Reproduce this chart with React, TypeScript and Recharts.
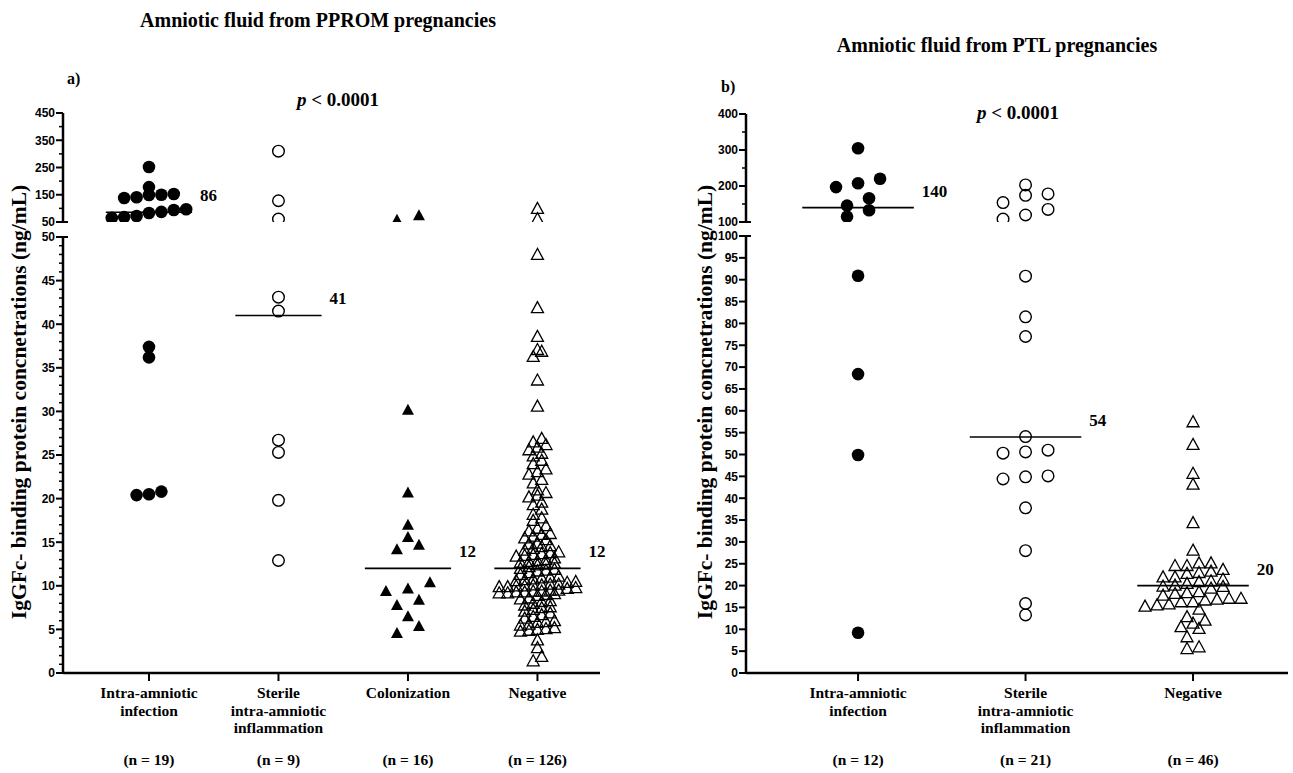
import React from "react";
import { ReferenceDot, ReferenceLine, Scatter, ScatterChart, XAxis, YAxis } from "recharts";

// ---- data ----
const PPROM_CATEGORIES = [["Intra-amniotic", "infection"], ["Sterile", "intra-amniotic", "inflammation"], ["Colonization"], ["Negative"]];
const PPROM_COUNTS = [19, 9, 16, 126];
const PPROM_MEDIANS = [86, 41, 12, 12];
const PPROM_INFECTION = [252, 178, 153, 150, 149, 141, 138, 97, 94, 87, 83, 72, 68, 65, 37.4, 36.2, 20.8, 20.5, 20.4];
const PPROM_STERILE = [310, 128, 61, 43.1, 41.5, 26.7, 25.3, 19.8, 12.9];
const PPROM_COLONIZATION = [75, 58, 30.2, 20.7, 17.0, 15.6, 14.7, 14.2, 10.4, 9.7, 9.4, 8.4, 7.8, 6.5, 5.4, 4.6];
const PPROM_NEGATIVE = [
  100, 62, 48.0, 41.9, 38.6, 37.1, 36.9, 36.3, 33.6, 30.6,
  26.9, 26.5, 26.2, 25.9, 25.6, 25.2, 24.9, 24.4, 24.0, 23.4, 23.1, 22.8, 22.2, 21.8,
  21.0, 20.7, 20.4, 20.2, 19.6, 19.3, 18.8, 18.2, 17.8, 17.5, 16.9, 16.6, 16.3, 16.0,
  15.9, 15.7, 15.5, 15.3, 14.9, 14.8, 14.6, 14.5, 14.3, 14.1,
  13.9, 13.8, 13.7, 13.6, 13.5, 13.4, 13.2, 13.0, 12.9, 12.8, 12.7, 12.6, 12.5, 12.4,
  12.2, 12.0, 11.9, 11.8, 11.7, 11.5, 11.3, 11.1, 11.0, 10.9, 10.8, 10.7, 10.6, 10.5, 10.4,
  10.2, 10.2, 10.1, 10.1, 10.0, 10.0, 9.9, 9.9, 9.8, 9.7,
  9.5, 9.5, 9.4, 9.4, 9.3, 9.3, 9.2, 9.2, 9.1, 9.0, 8.9,
  8.6, 8.5, 8.3, 8.2, 8.0, 7.8, 7.6, 7.5, 7.3, 7.1, 6.9, 6.7, 6.5, 6.3,
  6.0, 5.9, 5.8, 5.6, 5.5, 5.2, 5.1, 5.0, 4.9, 4.8, 3.8, 2.9, 1.9, 1.4,
];

const PTL_CATEGORIES = [["Intra-amniotic", "infection"], ["Sterile", "intra-amniotic", "inflammation"], ["Negative"]];
const PTL_COUNTS = [12, 21, 46];
const PTL_MEDIANS = [140, 54, 20];
const PTL_INFECTION = [305, 220, 207.5, 197, 166, 145.5, 132.5, 115, 90.9, 68.4, 49.9, 9.2];
const PTL_STERILE = [203, 178, 174, 154, 135, 119.5, 108, 90.8, 81.5, 77.0, 54.1, 51.0, 50.6, 50.3, 45.1, 44.9, 44.4, 37.8, 28.0, 15.9, 13.3];
const PTL_NEGATIVE = [
  57.5, 52.3, 45.7, 43.2, 34.4, 28.1, 25.2, 25.2, 24.6, 24.6, 23.7, 23.3, 23.0, 22.8, 22.0, 22.0,
  21.5, 21.1, 20.9, 20.5, 20.1, 19.9, 19.8, 19.4, 18.6, 18.4, 18.2, 17.8, 17.1, 17.1, 16.9, 16.7,
  16.3, 16.3, 15.8, 15.6, 15.3, 14.6, 12.9, 12.1, 11.4, 10.6, 10.2, 8.3, 6.0, 5.6,
];

const SERIF = '"Liberation Serif", "Times New Roman", serif';
const SANS = '"Liberation Sans", Arial, sans-serif';
const YW = 50;
const MT = 8;
const MB = 8;
const XH = 100;

const range = (a: number, b: number, step: number) => {
  const out: number[] = [];
  for (let v = a; v <= b + 1e-9; v += step) out.push(v);
  return out;
};

// dot-plot layout: points within one marker height share a row and are spread sideways
function swarm(values: number[], cat: number, yScale: number, xScale: number, rowPx: number, colPx: number) {
  const sorted = [...values].sort((a, b) => a - b);
  const pts: { x: number; y: number }[] = [];
  let i = 0;
  while (i < sorted.length) {
    const start = sorted[i];
    const row: number[] = [];
    while (i < sorted.length && (sorted[i] - start) * yScale < rowPx) row.push(sorted[i++]);
    row.forEach((v, k) => pts.push({ x: cat + ((k - (row.length - 1) / 2) * colPx) / xScale, y: v }));
  }
  return pts;
}

function Marker({ cx, cy, kind }: any) {
  if (cx == null || cy == null) return null;
  if (kind === "filledCircle") return <circle cx={cx} cy={cy} r={6.3} fill="#000" />;
  if (kind === "openCircle") return <circle cx={cx} cy={cy} r={5.8} fill="none" stroke="#000" strokeWidth={1.4} />;
  const pts = `${cx},${cy - 6} ${cx - 6},${cy + 5} ${cx + 6},${cy + 5}`;
  if (kind === "filledTriangle") return <polygon points={pts} fill="#000" />;
  return <polygon points={pts} fill="none" stroke="#000" strokeWidth={1.3} />;
}

function YTick({ x, y, payload, majors, capValue }: any) {
  const v = payload.value;
  const major = majors.includes(v);
  const len = major ? 7 : 4;
  const ext = v === capValue ? 5 : 0;
  return (
    <g>
      <line x1={x - len} x2={x + ext} y1={y} y2={y} stroke="#000" strokeWidth={major ? 2 : 1.5} />
      {major && (
        <text x={x - len - 1} y={y} dy="0.36em" textAnchor="end" fontFamily={SANS} fontWeight="bold" fontSize={12} fill="#000">
          {v}
        </text>
      )}
    </g>
  );
}

function CatTick({ x, y, payload, categories, counts }: any) {
  const i = payload.value;
  const lines: string[] = categories[i] || [];
  return (
    <g fontFamily={SERIF} fontWeight="bold" fontSize={15.5} fill="#000" textAnchor="middle">
      {lines.map((t, k) => (
        <text key={k} x={x} y={y + 17 + k * 17.5}>
          {t}
        </text>
      ))}
      <text x={x} y={y + 84}>{`(n = ${counts[i]})`}</text>
    </g>
  );
}

type Group = { values: number[]; kind: string; rowPx: number; colPx: number };

function Segment({ panel, seg, showX }: any) {
  const { axisX, right, xDomain, groups, medians, breakValue, categories, counts } = panel;
  const { top, bottom, domain, ticks, majors, capValue, isUpper } = seg;
  const MR = Math.min(20, 1293 - right);
  const width = right - axisX + YW + MR;
  const height = bottom - top + MT + (showX ? XH : MB);
  const yScale = (bottom - top) / (domain[1] - domain[0]);
  const xScale = (right - axisX) / (xDomain[1] - xDomain[0]);
  const inSeg = (v: number) => (isUpper ? v > breakValue : v <= breakValue);

  return (
    <div style={{ position: "absolute", left: axisX - YW, top: top - MT }}>
      <ScatterChart width={width} height={height} margin={{ top: MT, right: MR, left: 0, bottom: showX ? 0 : MB }}>
        <XAxis
          type="number"
          dataKey="x"
          domain={xDomain}
          ticks={categories.map((_: any, i: number) => i)}
          allowDataOverflow
          hide={!showX}
          height={showX ? XH : 0}
          interval={0}
          tickSize={8}
          tickMargin={0}
          axisLine={{ stroke: "#000", strokeWidth: 2.5 }}
          tickLine={{ stroke: "#000", strokeWidth: 2 }}
          tick={(p: any) => <CatTick {...p} categories={categories} counts={counts} />}
        />
        <YAxis
          type="number"
          dataKey="y"
          domain={domain}
          ticks={ticks}
          allowDataOverflow
          interval={0}
          width={YW}
          tickSize={0}
          tickMargin={0}
          tickLine={false}
          axisLine={{ stroke: "#000", strokeWidth: 2.5 }}
          tick={(p: any) => <YTick {...p} majors={majors} capValue={capValue} />}
        />
        {groups.map((g: Group, i: number) => (
          <Scatter
            key={i}
            data={swarm(g.values.filter(inSeg), i, yScale, xScale, g.rowPx, g.colPx)}
            isAnimationActive={false}
            shape={(p: any) => <Marker cx={p.cx} cy={p.cy} kind={g.kind} />}
          />
        ))}
        {medians.map((m: number, i: number) =>
          inSeg(m) ? (
            <ReferenceLine
              key={`m${i}`}
              segment={[{ x: i - 0.333, y: m }, { x: i + 0.333, y: m }]}
              stroke="#000"
              strokeWidth={1.6}
            />
          ) : null
        )}
        {medians.map((m: number, i: number) =>
          inSeg(m) ? (
            <ReferenceDot
              key={`l${i}`}
              x={i + 0.333}
              y={m}
              r={0}
              shape={(p: any) => (
                <text x={p.cx + 8} y={p.cy - 11} fontFamily={SERIF} fontWeight="bold" fontSize={17} fill="#000">
                  {m}
                </text>
              )}
            />
          ) : null
        )}
      </ScatterChart>
    </div>
  );
}

const PANEL_A = {
  axisX: 63,
  right: 600,
  xDomain: [-0.664, 3.483],
  breakValue: 50,
  categories: PPROM_CATEGORIES,
  counts: PPROM_COUNTS,
  medians: PPROM_MEDIANS,
  groups: [
    { values: PPROM_INFECTION, kind: "filledCircle", rowPx: 9, colPx: 12.4 },
    { values: PPROM_STERILE, kind: "openCircle", rowPx: 9, colPx: 12.4 },
    { values: PPROM_COLONIZATION, kind: "filledTriangle", rowPx: 10, colPx: 22 },
    { values: PPROM_NEGATIVE, kind: "openTriangle", rowPx: 6, colPx: 8.5 },
  ],
  upper: { top: 113, bottom: 222, domain: [50, 450], ticks: range(50, 450, 50), majors: [50, 150, 250, 350, 450], capValue: 50, isUpper: true },
  lower: { top: 237, bottom: 673, domain: [0, 50], ticks: range(0, 50, 1), majors: range(0, 50, 5), capValue: 50, isUpper: false },
};

const PANEL_B = {
  axisX: 746,
  right: 1288,
  xDomain: [-0.669, 2.567],
  breakValue: 100,
  categories: PTL_CATEGORIES,
  counts: PTL_COUNTS,
  medians: PTL_MEDIANS,
  groups: [
    { values: PTL_INFECTION, kind: "filledCircle", rowPx: 10.8, colPx: 22 },
    { values: PTL_STERILE, kind: "openCircle", rowPx: 10.8, colPx: 22.5 },
    { values: PTL_NEGATIVE, kind: "openTriangle", rowPx: 9, colPx: 12 },
  ],
  upper: { top: 114, bottom: 222, domain: [100, 400], ticks: range(100, 400, 50), majors: [100, 200, 300, 400], capValue: 100, isUpper: true },
  lower: { top: 236, bottom: 673, domain: [0, 100], ticks: range(0, 100, 5), majors: range(0, 100, 5), capValue: 100, isUpper: false },
};

const Y_LABEL = "IgGFc- binding protein concnetrations (ng/mL)";

export default function App() {
  return (
    <div style={{ position: "absolute", left: 0, top: 0, width: 1293, height: 773, background: "#fff", overflow: "hidden" }}>
      {[PANEL_A, PANEL_B].map((p, i) => (
        <React.Fragment key={i}>
          <Segment panel={p} seg={p.upper} showX={false} />
          <Segment panel={p} seg={p.lower} showX={true} />
        </React.Fragment>
      ))}
      <svg width={1293} height={773} style={{ position: "absolute", left: 0, top: 0, pointerEvents: "none" }}>
        <g fontFamily={SERIF} fontWeight="bold" fill="#000">
          <text x={318} y={27} fontSize={20} textAnchor="middle">Amniotic fluid from PPROM pregnancies</text>
          <text x={997} y={52} fontSize={20} textAnchor="middle">Amniotic fluid from PTL pregnancies</text>
          <text x={67} y={84} fontSize={16}>a)</text>
          <text x={721} y={92} fontSize={16}>b)</text>
          <text x={297} y={106} fontSize={19}>
            <tspan fontStyle="italic">p</tspan> &lt; 0.0001
          </text>
          <text x={977} y={119} fontSize={19}>
            <tspan fontStyle="italic">p</tspan> &lt; 0.0001
          </text>
          <text transform="translate(26,402) rotate(-90)" fontSize={21.5} textAnchor="middle">{Y_LABEL}</text>
          <text transform="translate(712,402) rotate(-90)" fontSize={21.5} textAnchor="middle">{Y_LABEL}</text>
        </g>
      </svg>
    </div>
  );
}
